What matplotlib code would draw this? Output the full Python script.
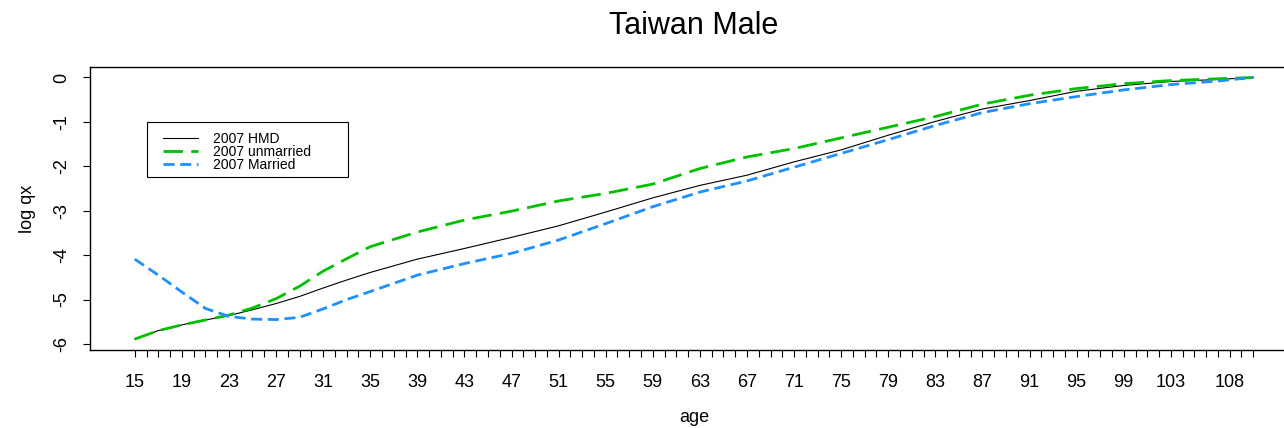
import matplotlib
matplotlib.use("Agg")
import matplotlib.pyplot as plt
from matplotlib.patches import Rectangle

plt.rcParams['font.family'] = ['Liberation Sans', 'DejaVu Sans']

# ages
ages = [15, 17, 19, 21, 23, 25, 27, 29, 31, 33, 35, 39, 43, 47, 51, 55,
        59, 63, 67, 71, 75, 79, 83, 87, 91, 95, 99, 103, 107, 110]

hmd = [-5.89, -5.70, -5.57, -5.46, -5.36, -5.23, -5.09, -4.93, -4.74, -4.56,
       -4.39, -4.09, -3.85, -3.60, -3.34, -3.03, -2.71, -2.43, -2.20, -1.90,
       -1.63, -1.30, -0.99, -0.71, -0.52, -0.31, -0.18, -0.09, -0.045, 0.0]

unmarried = [-5.89, -5.70, -5.57, -5.46, -5.35, -5.19, -4.98, -4.70, -4.36,
             -4.08, -3.81, -3.48, -3.21, -3.01, -2.78, -2.61, -2.40, -2.05,
             -1.79, -1.60, -1.36, -1.12, -0.88, -0.60, -0.40, -0.25, -0.14,
             -0.07, -0.03, 0.0]

married = [-4.09, -4.45, -4.83, -5.20, -5.38, -5.44, -5.45, -5.40, -5.21,
           -5.00, -4.82, -4.45, -4.19, -3.96, -3.66, -3.29, -2.91, -2.58,
           -2.33, -2.02, -1.71, -1.40, -1.08, -0.79, -0.59, -0.43, -0.28,
           -0.16, -0.08, 0.0]

tick_ages = list(range(15, 111))
label_ages = list(range(15, 104, 4)) + [108]
y_ticks = [0, -1, -2, -3, -4, -5, -6]


def draw():
    fig = plt.figure(figsize=(12.84, 4.28), dpi=100)
    ax = fig.add_axes([0.0701, 0.1822, 0.9408, 0.6613])

    ax.plot(ages, hmd, color="black", lw=0.8, label="2007 HMD")
    ax.plot(ages, unmarried, color="#00C000", lw=2, dashes=(7, 3),
            label="2007 unmarried")
    ax.plot(ages, married, color="#1E90FF", lw=2, dashes=(4, 2),
            label="2007 Married")

    ax.set_xlim(11.2, 113.8)
    ax.set_ylim(-6.136, 0.236)

    ax.set_xticks(tick_ages)
    ax.set_xticklabels([str(a) if a in label_ages else "" for a in tick_ages],
                       fontsize=13)
    ax.set_yticks(y_ticks)
    ax.set_yticklabels([str(v) for v in y_ticks], fontsize=13,
                       rotation=90, va="center")
    ax.tick_params(axis="x", length=5, width=0.8, pad=12)
    ax.tick_params(axis="y", length=5, width=0.8, pad=9)

    for s in ax.spines.values():
        s.set_linewidth(1)

    ax.set_title("Taiwan Male", fontsize=22, pad=24)
    ax.set_xlabel("age", fontsize=13, labelpad=13)
    ax.set_ylabel("log qx", fontsize=13, labelpad=13)

    # legend box drawn as in R: plain rectangle, entries inside
    ax.add_patch(Rectangle((0.0472, 0.6113), 0.1664, 0.1944,
                           transform=ax.transAxes, fill=False,
                           edgecolor="black", lw=0.8, zorder=4))
    ax.legend(loc="upper left", bbox_to_anchor=(0.0604, 0.772),
              fontsize=10, frameon=False, handlelength=2.5,
              labelspacing=-0.05, borderpad=0, handletextpad=1.1,
              borderaxespad=0)

    fig.savefig("out.png", dpi=100)


if __name__ == "__main__":
    draw()
